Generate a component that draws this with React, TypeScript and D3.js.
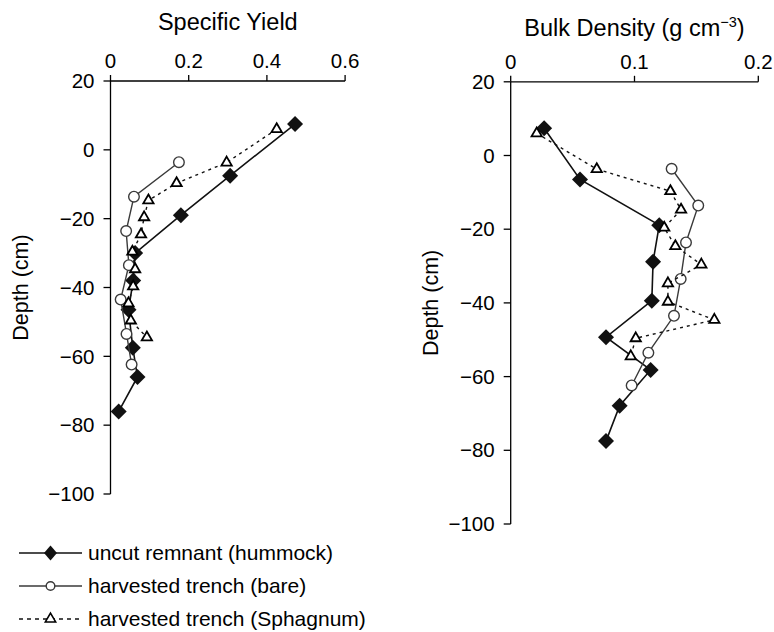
import React from "react";
import * as d3 from "d3";

// Depth profiles (cm) and measured values
const hummockDepthSY = [7.5, -7.5, -19, -30, -38, -46.5, -57.5, -66, -76];
const hummockSY = [0.472, 0.306, 0.18, 0.063, 0.058, 0.046, 0.057, 0.069, 0.021];

const hummockDepthBD = [7.4, -6.5, -18.9, -28.8, -39.4, -49.3, -58.2, -67.9, -77.5];
const hummockBD = [0.027, 0.056, 0.12, 0.115, 0.114, 0.077, 0.113, 0.088, 0.077];

const bareDepth = [-3.6, -13.6, -23.6, -33.5, -43.5, -53.5, -62.4];
const bareSY = [0.175, 0.06, 0.04, 0.047, 0.026, 0.041, 0.054];
const bareBD = [0.13, 0.1515, 0.1416, 0.1373, 0.1319, 0.1112, 0.0977];

const sphagnumDepth = [6, -3.7, -9.7, -14.7, -19.6, -24.6, -29.6, -34.7, -39.7, -44.6, -49.6, -54.5];
const sphagnumSY = [0.425, 0.297, 0.169, 0.097, 0.086, 0.078, 0.056, 0.063, 0.058, 0.046, 0.052, 0.093];
const sphagnumBD = [0.021, 0.0695, 0.129, 0.1376, 0.124, 0.133, 0.154, 0.127, 0.127, 0.1645, 0.101, 0.097];

const depthTicks = [20, 0, -20, -40, -60, -80, -100];
const syTicks = [0, 0.2, 0.4, 0.6];
const bdTicks = [0, 0.1, 0.2];

const legendLabels = [
  "uncut remnant (hummock)",
  "harvested trench (bare)",
  "harvested trench (Sphagnum)",
];

const FONT = "'Liberation Sans', Arial, Helvetica, sans-serif";

const diamondPath = (rx: number, ry: number = rx) => `M0,${-ry}L${rx},0L0,${ry}L${-rx},0Z`;
const trianglePath = d3.symbol().type(d3.symbolTriangle).size(46)()!;

type Series = { x: number[]; y: number[] };

function Panel(props: {
  xRange: [number, number];
  yRange: [number, number];
  xDomain: [number, number];
  xTicks: number[];
  xFormat: (v: number) => string;
  title: React.ReactNode;
  titleY: number;
  yLabelX: number;
  hummock: Series;
  bare: Series;
  sphagnum: Series;
}) {
  const x = d3.scaleLinear().domain(props.xDomain).range(props.xRange);
  const y = d3.scaleLinear().domain([20, -100]).range(props.yRange);
  const x0 = props.xRange[0];
  const yTop = props.yRange[0];
  const yBot = props.yRange[1];
  const fmtY = d3.format("d");
  const line = (s: Series) =>
    d3
      .line<number>()
      .x((_, i) => x(s.x[i]))
      .y((_, i) => y(s.y[i]))(s.x)!;
  const cx = (x0 + props.xRange[1]) / 2;
  return (
    <g fontFamily={FONT} fill="#000">
      {/* title */}
      <text x={cx} y={props.titleY} textAnchor="middle" fontSize={23.5}>
        {props.title}
      </text>
      {/* top axis */}
      <line x1={x0} x2={props.xRange[1]} y1={yTop} y2={yTop} stroke="#000" strokeWidth={1.3} />
      {props.xTicks.map((t) => (
        <g key={"xt" + t}>
          <line x1={x(t)} x2={x(t)} y1={yTop} y2={yTop - 6} stroke="#000" strokeWidth={1.3} />
          <text x={x(t)} y={yTop - 13} textAnchor="middle" fontSize={20.5}>
            {props.xFormat(t)}
          </text>
        </g>
      ))}
      {/* depth axis */}
      <line x1={x0} x2={x0} y1={yTop} y2={yBot} stroke="#000" strokeWidth={1.3} />
      {depthTicks.map((t) => (
        <g key={"yt" + t}>
          <line x1={x0 - 7} x2={x0} y1={y(t)} y2={y(t)} stroke="#000" strokeWidth={1.3} />
          <text x={x0 - 16} y={y(t)} dy="0.35em" textAnchor="end" fontSize={20.5}>
            {t < 0 ? "\u2212" + fmtY(-t) : fmtY(t)}
          </text>
        </g>
      ))}
      <text
        transform={`translate(${props.yLabelX},${(yTop + yBot) / 2}) rotate(-90)`}
        textAnchor="middle"
        fontSize={21.5}
      >
        Depth (cm)
      </text>
      {/* hummock */}
      <path d={line(props.hummock)} fill="none" stroke="#111" strokeWidth={1.6} />
      {props.hummock.x.map((v, i) => (
        <path
          key={"h" + i}
          d={diamondPath(8)}
          transform={`translate(${x(v)},${y(props.hummock.y[i])})`}
          fill="#111"
        />
      ))}
      {/* bare */}
      <path d={line(props.bare)} fill="none" stroke="#3a3a3a" strokeWidth={1.4} />
      {props.bare.x.map((v, i) => (
        <circle
          key={"b" + i}
          cx={x(v)}
          cy={y(props.bare.y[i])}
          r={5.3}
          fill="#fff"
          stroke="#3a3a3a"
          strokeWidth={1.4}
        />
      ))}
      {/* sphagnum */}
      <path
        d={line(props.sphagnum)}
        fill="none"
        stroke="#111"
        strokeWidth={1.4}
        strokeDasharray="3,4"
      />
      {props.sphagnum.x.map((v, i) => (
        <path
          key={"s" + i}
          d={trianglePath}
          transform={`translate(${x(v)},${y(props.sphagnum.y[i])})`}
          fill="#fff"
          stroke="#000"
          strokeWidth={1.8}
        />
      ))}
    </g>
  );
}

export default function App() {
  const fmtSY = (v: number) => (v === 0 ? "0" : d3.format(".1f")(v));
  const legendY = [553, 586, 619];
  return (
    <svg
      width={774}
      height={632}
      style={{ position: "absolute", left: 0, top: 0, background: "#fff" }}
    >
      <rect width={774} height={632} fill="#fff" />
      <Panel
        xRange={[110.5, 345.1]}
        yRange={[81, 494]}
        xDomain={[0, 0.6]}
        xTicks={syTicks}
        xFormat={fmtSY}
        title="Specific Yield"
        titleY={30}
        yLabelX={28}
        hummock={{ x: hummockSY, y: hummockDepthSY }}
        bare={{ x: bareSY, y: bareDepth }}
        sphagnum={{ x: sphagnumSY, y: sphagnumDepth }}
      />
      <Panel
        xRange={[510.7, 758.3]}
        yRange={[81.8, 524]}
        xDomain={[0, 0.2]}
        xTicks={bdTicks}
        xFormat={fmtSY}
        title={
          <>
            Bulk Density (g cm
            <tspan fontSize={14.5} dy={-9}>
              {"\u22123"}
            </tspan>
            <tspan dy={9}>)</tspan>
          </>
        }
        titleY={36}
        yLabelX={438}
        hummock={{ x: hummockBD, y: hummockDepthBD }}
        bare={{ x: bareBD, y: bareDepth }}
        sphagnum={{ x: sphagnumBD, y: sphagnumDepth }}
      />
      {/* legend */}
      <g fontFamily={FONT} fontSize={21}>
        <line x1={19} x2={82} y1={legendY[0]} y2={legendY[0]} stroke="#111" strokeWidth={1.6} />
        <path d={diamondPath(6.5, 7.5)} transform={`translate(50.5,${legendY[0]})`} fill="#111" />
        <text x={88} y={legendY[0]} dy="0.35em">
          {legendLabels[0]}
        </text>
        <line x1={19} x2={82} y1={legendY[1]} y2={legendY[1]} stroke="#3a3a3a" strokeWidth={1.4} />
        <circle cx={50.5} cy={legendY[1]} r={4.3} fill="#fff" stroke="#3a3a3a" strokeWidth={1.4} />
        <text x={88} y={legendY[1]} dy="0.35em">
          {legendLabels[1]}
        </text>
        <line
          x1={19}
          x2={82}
          y1={legendY[2]}
          y2={legendY[2]}
          stroke="#111"
          strokeWidth={1.3}
          strokeDasharray="4,4"
        />
        <path
          d={trianglePath}
          transform={`translate(50.5,${legendY[2]})`}
          fill="#fff"
          stroke="#000"
          strokeWidth={1.6}
        />
        <text x={88} y={legendY[2]} dy="0.35em">
          {legendLabels[2]}
        </text>
      </g>
    </svg>
  );
}
